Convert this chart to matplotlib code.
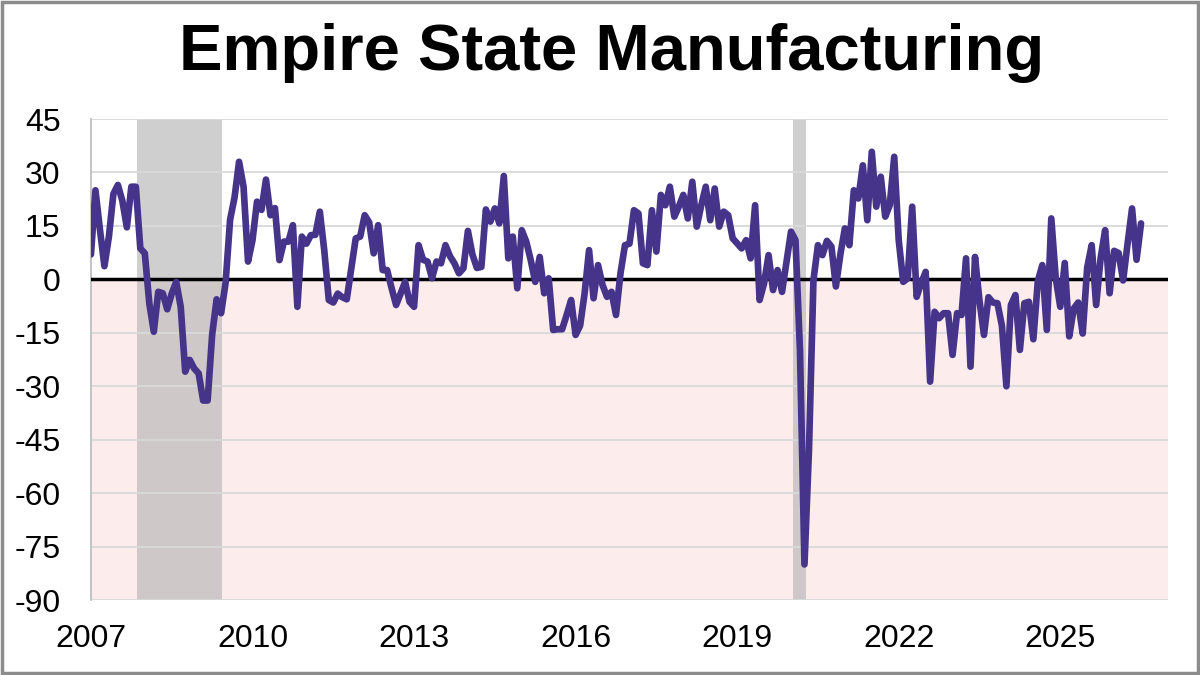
import numpy as np
import matplotlib
matplotlib.use("Agg")
import matplotlib.pyplot as plt
from matplotlib.patches import Rectangle

# monthly index values, Jan 2007 onward
y2007 = [7, 25, 14, 3.7, 12, 24, 26.5, 22, 14.6, 26, 26, 8.7]
y2008 = [7.3, -6.7, -14.7, -3.5, -3.9, -8.4, -4, -0.7, -7.7, -25.9, -22.6, -25]
y2009 = [-26.4, -34, -34, -15.6, -5.6, -9.5, -1, 16.7, 23, 33, 26, 5]
y2010 = [11, 21.8, 19.5, 28, 18, 20, 5.4, 10.6, 10.6, 15.2, -7.7, 12]
y2011 = [10, 12.4, 12.5, 19, 8, -5.8, -6.5, -4, -5, -5.6, 3, 11.5]
y2012 = [12, 18, 16, 7.3, 15.2, 2.6, 2.6, -2.5, -7.2, -4, -0.7, -6.3]
y2013 = [-7.7, 9.6, 5.5, 5, 0.3, 5, 4.5, 9.6, 6.5, 4.5, 1.7, 3.1]
y2014 = [13.6, 7, 3.2, 3.5, 19.6, 16.2, 19.9, 15.7, 29, 5.9, 12, -2.5]
y2015 = [13.8, 10.6, 5.4, -0.7, 6.3, -3.9, 0.3, -14.2, -14, -14, -10, -5.8]
y2016 = [-15.6, -13, -4, 8.2, -5.3, 4, -1.6, -4.9, -3.5, -10, 1.7, 9.6]
y2017 = [10, 19.4, 18.5, 4.5, 4, 19.4, 7.8, 23.7, 20.8, 26, 17.6, 20.4]
y2018 = [23.7, 17.1, 27.4, 14.8, 20.8, 26, 16.6, 25.5, 14.8, 19, 18, 11.5]
y2019 = [10.1, 8.7, 11, 5.9, 20.8, -5.8, -1.1, 6.8, -3, 2.6, -3.5, 5]
y2020 = [13.4, 11, -20, -80, -48, -0.2, 9.6, 6.8, 10.8, 9.2, -2, 7]
y2021 = [14.3, 9.6, 25, 22.7, 32, 16.6, 35.8, 20.4, 28.8, 17.6, 20.8, 34.4]
y2022 = [11, -0.7, 0.3, 20.4, -4.9, -1.1, 2.1, -28.7, -9.1, -10.9, -9.5, -9.5]
y2023 = [-21.2, -9.5, -10, 5.9, -24.5, 6.3, -6, -15.6, -5, -6.5, -6.7, -13]
y2024 = [-30, -7.2, -4.4, -19.8, -6.7, -6.3, -16.8, -0.5, 4, -14.2, 17.1, 0.3]
y2025 = [-7.7, 4.6, -16, -8.2, -6.5, -15.2, 3.3, 9.6, -7.2, 6, 13.8, -3.9]
y2026 = [8, 7.4, -0.3, 10, 19.9, 5.5, 15.7]

values = (y2007 + y2008 + y2009 + y2010 + y2011 + y2012 + y2013 + y2014 + y2015
          + y2016 + y2017 + y2018 + y2019 + y2020 + y2021 + y2022 + y2023 + y2024
          + y2025 + y2026)
dates = 2007 + np.arange(len(values)) / 12.0

recessions = [(2007.86, 2009.44), (2020.03, 2020.27)]
yticks = [45, 30, 15, 0, -15, -30, -45, -60, -75, -90]
xticks = [2007, 2010, 2013, 2016, 2019, 2022, 2025]

plt.rcParams['font.family'] = ['Liberation Sans', 'DejaVu Sans']
plt.rcParams['axes.unicode_minus'] = False

fig = plt.figure(figsize=(12, 6.75), dpi=100)
ax = fig.add_axes([0.0758, 0.111, 0.8975, 0.7127])

ax.axhspan(-90, 0, color='#fcecec', zorder=0, lw=0)
for r0, r1 in recessions:
    ax.axvspan(r0, r1, color='#b0b0b0', alpha=0.6, zorder=0.3, lw=0)
ax.set_axisbelow(True)
ax.yaxis.grid(True, color='#d9d9d9', lw=1.3)
ax.axhline(0, color='black', lw=2.5, zorder=3)
ax.plot(dates, values, color='#45348a', lw=4.8, zorder=4,
        solid_joinstyle='round', solid_capstyle='round')

ax.set_xlim(2007, 2027)
ax.set_ylim(-90, 45)
ax.set_yticks(yticks)
ax.set_xticks(xticks)
ax.tick_params(length=0, labelsize=23)
ax.tick_params(axis='y', pad=22)
ax.tick_params(axis='x', pad=17)
for s in ['top', 'right', 'bottom']:
    ax.spines[s].set_visible(False)
ax.spines['left'].set_color('#bfbfbf')
ax.spines['left'].set_linewidth(1.3)

fig.text(0.51, 0.921, 'Empire State Manufacturing', ha='center', va='center',
         fontsize=47, fontweight='bold')

# grey frame around the picture
fig.patches.append(Rectangle((0.0015, 0.0025), 0.997, 0.995, transform=fig.transFigure,
                             fill=False, edgecolor='#8c8c8c', lw=2.5))

fig.savefig('out.png', dpi=100, facecolor='white')
